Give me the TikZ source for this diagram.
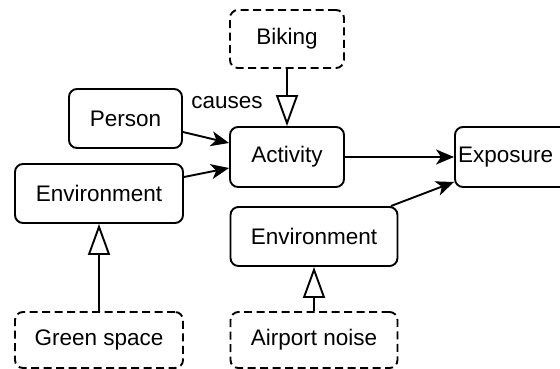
\documentclass[tikz,border=0pt]{standalone}
\usepackage{fontspec}
\setmainfont{Liberation Sans}
\usetikzlibrary{arrows.meta}
\begin{document}
\begin{tikzpicture}[x=1pt,y=-1pt,
  box/.style={draw, line width=1.9pt, rounded corners=8pt, font=\fontsize{22.5}{26}\selectfont, inner sep=0pt},
  dbox/.style={box, dash pattern=on 8pt off 4.5pt},
  causal/.style={draw, line width=1.9pt, -{Stealth[length=18pt, width=15pt, inset=5pt]}},
  isa/.style={draw, line width=1.9pt, -{Triangle[open, length=31pt, width=22pt, line width=1.9pt]}}]
\useasboundingbox (0,0) rectangle (560,369);
\begin{scope}
\clip (0,0) rectangle (560,369);
\node[dbox, minimum width=114pt, minimum height=58pt] (bike) at (287,39) {Biking};
\node[box, minimum width=113pt, minimum height=59pt] (person) at (125.5,118.5) {Person};
\node[box, minimum width=114pt, minimum height=60pt] (act) at (287,157) {Activity};
\node[box, minimum width=114pt, minimum height=60pt, text width=108pt, align=left, inner xsep=3pt] (exp) at (512,157) {Exposure};
\node[box, minimum width=168pt, minimum height=59pt] (envl) at (99,193.5) {Environment};
\node[box, minimum width=167pt, minimum height=59pt] (envr) at (314,236.5) {Environment};
\node[dbox, minimum width=168pt, minimum height=56pt] (green) at (99,340) {Green space};
\node[dbox, minimum width=167pt, minimum height=56pt] (air) at (314,340) {Airport noise};
\end{scope}
\node[font=\fontsize{22.5}{26}\selectfont, inner sep=0pt] (causes) at (227,103) {causes};
\draw[causal] (person.east |- 0,132) -- (act.west |- 0,143);
\draw[causal] (envl.east |- 0,177) -- (act.west |- 0,168);
\draw[causal] (act.east) -- (exp.west);
\draw[causal] (391,206) -- (exp.west |- 0,182);
\draw[isa] (bike) -- (act);
\draw[isa] (green) -- (envl);
\draw[isa] (air) -- (envr);
\end{tikzpicture}
\end{document}
